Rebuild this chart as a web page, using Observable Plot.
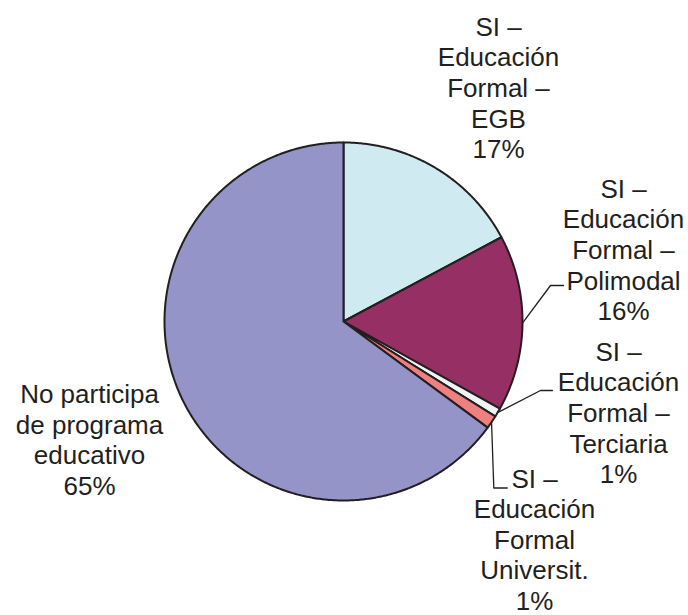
<!DOCTYPE html>
<html>
<head>
<meta charset="utf-8">
<script src="https://cdn.jsdelivr.net/npm/d3@7"></script>
<script src="https://cdn.jsdelivr.net/npm/@observablehq/plot@0.6"></script>
<style>
  html, body { margin: 0; padding: 0; background: #ffffff; overflow: hidden; }
</style>
</head>
<body>
<div id="chart"></div>
<script>
// ---- data ----
const categories = [
  "SI – Educación Formal – EGB",
  "SI – Educación Formal – Polimodal",
  "SI – Educación Formal – Terciaria",
  "SI – Educación Formal Universit.",
  "No participa de programa educativo"
];
const values = [17.2, 15.9, 0.8, 1.2, 64.9];
const labelTexts = [
  "SI –\nEducación\nFormal –\nEGB\n17%",
  "SI –\nEducación\nFormal –\nPolimodal\n16%",
  "SI –\nEducación\nFormal –\nTerciaria\n1%",
  "SI –\nEducación\nFormal\nUniversit.\n1%",
  "No participa\nde programa\neducativo\n65%"
];

// ---- style / layout ----
const colors = ["#cfebf1", "#962f63", "#eef4f4", "#f08080", "#9494c8"];
const R = 179;                       // pie radius in plot units
const labelPos = [                   // label block centres (plot units, origin = pie centre)
  [155, 234.3], [280, 72.3], [275, -90.7], [191, -217.5], [-254, -117.7]
];
const leaderBends = {                // elbow & end of leader lines
  1: [[207, 36], [220, 36]],
  2: [[197, -69], [209, -69]],
  3: [[150.3, -166.5], [163.7, -166.5]]
};
const ink = "#231f20";

const rows = categories.map((c, i) => ({category: c, value: values[i]}));
const arcs = d3.pie().sort(null).value(d => d.value)(rows);

const slicePts = arcs.flatMap(p => {
  const pts = [{x: 0, y: 0}];
  const n = Math.max(4, Math.ceil((p.endAngle - p.startAngle) / (Math.PI / 360)));
  for (let i = 0; i <= n; i++) {
    const a = p.startAngle + (p.endAngle - p.startAngle) * i / n;
    pts.push({x: R * Math.sin(a), y: R * Math.cos(a)});
  }
  pts.push({x: 0, y: 0});
  return pts.map(q => ({...q, category: p.data.category}));
});

const leaderPts = Object.entries(leaderBends).flatMap(([k, bends]) => {
  const p = arcs[+k];
  const a = (p.startAngle + p.endAngle) / 2;
  const pts = [{x: R * Math.sin(a), y: R * Math.cos(a)}, ...bends.map(([x, y]) => ({x, y}))];
  return pts.map(q => ({...q, key: k}));
});

const labels = labelTexts.map((t, i) => ({text: t, x: labelPos[i][0], y: labelPos[i][1]}));

const chart = Plot.plot({
  width: 688,
  height: 615,
  margin: 0,
  x: {domain: [-343, 345], axis: null},
  y: {domain: [-294, 321], axis: null},
  color: {domain: categories, range: colors},
  style: {fontFamily: "'Liberation Sans', Arial, sans-serif", background: "#ffffff"},
  marks: [
    Plot.line(slicePts, {x: "x", y: "y", z: "category", fill: "category",
      stroke: ink, strokeWidth: 2, strokeLinejoin: "round", curve: "linear"}),
    Plot.line(leaderPts, {x: "x", y: "y", z: "key", stroke: ink, strokeWidth: 1.3}),
    Plot.text(labels, {x: "x", y: "y", text: "text", textAnchor: "middle",
      lineAnchor: "middle", lineHeight: 1.175, fontSize: 26, fill: ink})
  ]
});
document.getElementById("chart").appendChild(chart);
</script>
</body>
</html>
